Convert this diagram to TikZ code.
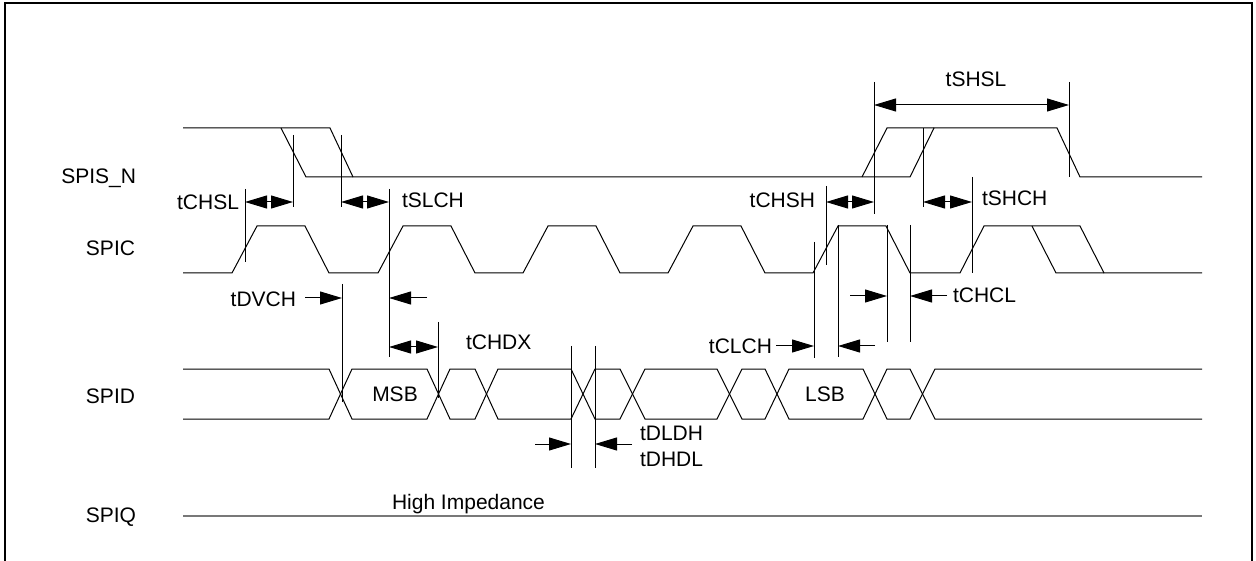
\documentclass[tikz,border=0pt]{standalone}
\usepackage{fontspec}
\setmainfont{Liberation Sans}
\usetikzlibrary{arrows.meta}
\definecolor{qgray}{RGB}{120,120,120}
\begin{document}
\begin{tikzpicture}[x=1pt,y=-1pt,
  sig/.style={line width=1pt,line join=miter},
  vline/.style={line width=1pt},
  dim/.style={line width=1pt,{Triangle[length=22pt,width=13pt]}-{Triangle[length=22pt,width=13pt]}},
  ptr/.style={line width=1pt,-{Triangle[length=22pt,width=13pt]}},
  lbl/.style={inner sep=0pt,outer sep=0pt,font=\fontsize{21}{25}\selectfont},
]
\useasboundingbox (0,0) rectangle (1256,561);
% frame
\draw[line width=2.2pt] (5,561) -- (5,3.3) -- (1252,3.3) -- (1252,561);

% signal names
\node[lbl,anchor=base east] (nspis) at (136,184) {SPIS\_N};
\node[lbl,anchor=base east] (nspic) at (135,256) {SPIC};
\node[lbl,anchor=base east] (nspid) at (135,403) {SPID};
\node[lbl,anchor=base east] (nspiq) at (136,522) {SPIQ};

% SPIS_N
\draw[sig] (183,128) -- (330,128) -- (353,177) -- (910,177) -- (934,128) -- (1057,128) -- (1080,177) -- (1202,177);
\draw[sig] (281,128) -- (306,177) -- (353,177);
\draw[sig] (862,177) -- (887,128) -- (934,128);

% SPIC
\draw[sig] (183,273) foreach \r in {232,378,523,668,813} { -- (\r,273) -- ({\r+25},226) -- ({\r+73},226) -- ({\r+97},273) }
  -- (960,273) -- (984,226) -- (1080,226) -- (1104,273) -- (1202,273);
\draw[sig] (1032,226) -- (1056,273) -- (1104,273);

% SPID
\draw[sig] (183,369) -- (329,369) -- (352,419) -- (427,419) -- (450,369) -- (475,369) -- (498,419) -- (571,419) -- (595,369) -- (620,369) -- (645,419) -- (717,419) -- (742,369) -- (765,369) -- (789,419) -- (863,419) -- (887,369) -- (910,369) -- (935,419) -- (1202,419);
\draw[sig] (183,419) -- (329,419) -- (352,369) -- (427,369) -- (450,419) -- (475,419) -- (498,369) -- (571,369) -- (595,419) -- (620,419) -- (645,369) -- (717,369) -- (742,419) -- (765,419) -- (789,369) -- (863,369) -- (887,419) -- (910,419) -- (935,369) -- (1202,369);
\node[lbl,anchor=base] (msb) at (395,401) {MSB};
\node[lbl,anchor=base] (lsb) at (825,401) {LSB};

% SPIQ
\draw[line width=2pt,draw=qgray] (183,516) -- (1202,516);
\node[lbl,anchor=base west] (hiz) at (392,509) {High Impedance};

% timing reference lines
\foreach \n/\x/\ya/\yb in {
 v1/245/189/262, v2/293/135/207, v3/341/135/207, v4/389/189/357,
 v5/342/284/402, v6/438/322/398, v7/571/346/468, v8/595/346/468,
 v9/826/186/265, v10/874/82/214, v11/923/128/207, v12/972/177/273,
 v13/1069/82/177, v14/887/225/342, v15/910/225/342, v16/814/242/358, v17/838/225/357}
{ \coordinate (\n-t) at (\x,\ya); \coordinate (\n-b) at (\x,\yb); \draw[vline] (\n-t) -- (\n-b); }

% two-headed dimension arrows
\coordinate (chsl-a) at (245,202); \coordinate (chsl-b) at (293,202);
\draw[dim] (chsl-a) -- (chsl-b);
\node[lbl,anchor=base east] (tchsl) at (239,210) {tCHSL};

\coordinate (slch-a) at (341,202); \coordinate (slch-b) at (389,202);
\draw[dim] (slch-a) -- (slch-b);
\node[lbl,anchor=base west] (tslch) at (402,208) {tSLCH};

\coordinate (chsh-a) at (826,202); \coordinate (chsh-b) at (874,202);
\draw[dim] (chsh-a) -- (chsh-b);
\node[lbl,anchor=base east] (tchsh) at (815,208) {tCHSH};

\coordinate (shch-a) at (923,202); \coordinate (shch-b) at (972,202);
\draw[dim] (shch-a) -- (shch-b);
\node[lbl,anchor=base west] (tshch) at (982,206) {tSHCH};

\coordinate (shsl-a) at (874,105); \coordinate (shsl-b) at (1069,105);
\draw[dim] (shsl-a) -- (shsl-b);
\node[lbl,anchor=base] (tshsl) at (976,87) {tSHSL};

\coordinate (chdx-a) at (389,347); \coordinate (chdx-b) at (438,347);
\draw[dim] (chdx-a) -- (chdx-b);
\node[lbl,anchor=base west] (tchdx) at (466,350) {tCHDX};

% single-headed pointer arrows
\coordinate (dvch-a) at (305,298); \coordinate (dvch-b) at (342,298);
\coordinate (dvch-c) at (427,298); \coordinate (dvch-d) at (389,298);
\draw[ptr] (dvch-a) -- (dvch-b);
\draw[ptr] (dvch-c) -- (dvch-d);
\node[lbl,anchor=base east] (tdvch) at (296,306.5) {tDVCH};

\coordinate (dldh-a) at (535,444); \coordinate (dldh-b) at (571,444);
\coordinate (dldh-c) at (632,444); \coordinate (dldh-d) at (595,444);
\draw[ptr] (dldh-a) -- (dldh-b);
\draw[ptr] (dldh-c) -- (dldh-d);
\node[lbl,anchor=base west] (tdldh) at (640,440) {tDLDH};
\node[lbl,anchor=base west] (tdhdl) at (640,466) {tDHDL};

\coordinate (chcl-a) at (850,296); \coordinate (chcl-b) at (887,296);
\coordinate (chcl-c) at (947,296); \coordinate (chcl-d) at (910,296);
\draw[ptr] (chcl-a) -- (chcl-b);
\draw[ptr] (chcl-c) -- (chcl-d);
\node[lbl,anchor=base west] (tchcl) at (953,302.5) {tCHCL};

\coordinate (clch-a) at (776,346); \coordinate (clch-b) at (814,346);
\coordinate (clch-c) at (875,346); \coordinate (clch-d) at (838,346);
\draw[ptr] (clch-a) -- (clch-b);
\draw[ptr] (clch-c) -- (clch-d);
\node[lbl,anchor=base east] (tclch) at (772,353) {tCLCH};
\end{tikzpicture}
\end{document}
